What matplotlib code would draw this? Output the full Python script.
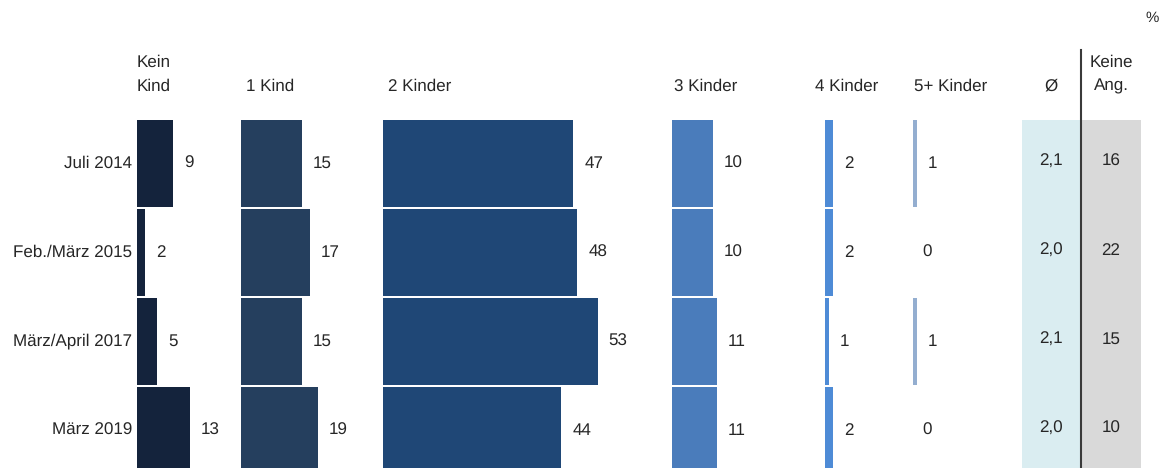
import matplotlib
matplotlib.use("Agg")
import matplotlib.pyplot as plt
from matplotlib.lines import Line2D

plt.rcParams["font.family"] = ["Liberation Sans", "DejaVu Sans"]
plt.rcParams["text.hinting"] = "no_hinting"
plt.rcParams["text.hinting_factor"] = 1

# Survey waves (rows, top to bottom)
waves = ["Juli 2014", "Feb./März 2015", "März/April 2017", "März 2019"]

# Share of respondents by desired number of children, in %
kein_kind = [9, 2, 5, 13]
ein_kind = [15, 17, 15, 19]
zwei_kinder = [47, 48, 53, 44]
drei_kinder = [10, 10, 11, 11]
vier_kinder = [2, 2, 1, 2]
fuenf_plus = [1, 0, 1, 0]

# Average number of children and share without answer
durchschnitt = ["2,1", "2,0", "2,1", "2,0"]
keine_angabe = [16, 22, 15, 10]

column_titles = ["Kein\nKind", "1 Kind", "2 Kinder", "3 Kinder", "4 Kinder", "5+ Kinder"]
series = [kein_kind, ein_kind, zwei_kinder, drei_kinder, vier_kinder, fuenf_plus]
colors = ["#14233c", "#253f5e", "#1f4776", "#4a7cbb", "#4e8bd6", "#94aed0"]

W, H = 1168, 468
fig = plt.figure(figsize=(W / 100, H / 100), dpi=100)

PX_PER_UNIT = 4.05      # horizontal pixels per percentage point
ROW0_CENTER = 163.5     # pixel y of first row centre (from top)
ROW_STEP = 89.0         # pixel distance between rows
FS = 12
TXT = "#262626"


def panel(x0, x1, ytop, xunits=None):
    ax = fig.add_axes([x0 / W, 0, (x1 - x0) / W, (H - ytop) / H])
    top = (ytop - ROW0_CENTER) / ROW_STEP
    bottom = (H - ROW0_CENTER) / ROW_STEP
    ax.set_ylim(bottom, top)
    if xunits is None:
        ax.set_xlim(0, (x1 - x0) / PX_PER_UNIT)
    else:
        ax.set_xlim(*xunits)
    ax.axis("off")
    return ax


panel_starts = [137, 241, 383, 672, 825, 913]
panel_ends = [241, 383, 672, 825, 913, 1020]
title_x = [137, 246, 388, 674, 815, 914]
rows = list(range(len(waves)))

# Bar panels, one per number of children
for i, (vals, col) in enumerate(zip(series, colors)):
    ax = panel(panel_starts[i], panel_ends[i], 110)
    ax.barh(rows, vals, height=0.975, left=0, color=col, edgecolor="none")
    for r, v in zip(rows, vals):
        ax.annotate(f"{v}", (v, r), xytext=(11 if v > 0 else 9, 0),
                    textcoords="offset pixels", ha="left", va="center",
                    fontsize=FS, color=TXT)

# Column headings
for i, title in enumerate(column_titles):
    lines = title.split("\n")
    for j, line in enumerate(reversed(lines)):
        fig.text(title_x[i] / W, 1 - (86 - 24 * j) / H, line, ha="left", va="center",
                 fontsize=FS, color=TXT)

# Row labels
label_ax = panel(0, 137, 110, xunits=(0, 137))
for r, name in zip(rows, waves):
    label_ax.text(132, r, name, ha="right", va="center", fontsize=FS, color=TXT)


def value_column(x0, x1, face, values):
    ax = panel(x0, x1, 120, xunits=(0, 1))
    ax.axis("on")
    ax.set_facecolor(face)
    for s in ax.spines.values():
        s.set_visible(False)
    ax.set_xticks([])
    ax.set_yticks([])
    for r, v in zip(rows, values):
        ax.text(0.5, r - 0.02, f"{v}", ha="center", va="center", fontsize=FS, color=TXT)
    return ax


value_column(1022, 1080, "#daedf1", durchschnitt)
value_column(1081, 1141, "#d9d9d9", keine_angabe)

fig.text(1051 / W, 1 - 86 / H, "Ø", ha="center", va="center", fontsize=FS, color=TXT)
fig.text(1111 / W, 1 - 86 / H, "Ang.", ha="center", va="center", fontsize=FS, color=TXT)
fig.text(1111 / W, 1 - 62 / H, "Keine", ha="center", va="center", fontsize=FS, color=TXT)
fig.text(1152 / W, 1 - 18 / H, "%", ha="center", va="center", fontsize=FS - 1, color=TXT)

# Separator between average and no-answer columns
fig.add_artist(Line2D([1080.5 / W, 1080.5 / W], [0, 1 - 50 / H], color="#3a3a3a",
                      linewidth=1.5, transform=fig.transFigure))

fig.savefig("out.png", dpi=100)
